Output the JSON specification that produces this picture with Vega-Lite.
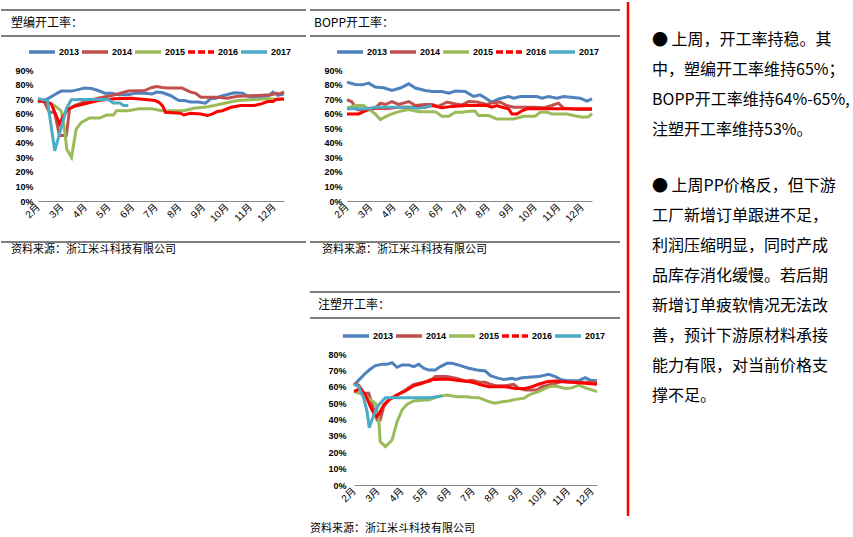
{
"$schema": "https://vega.github.io/schema/vega-lite/v6.json",
"padding": 0,
"background": "white",
"config": {
  "view": {"stroke": null},
  "font": "Liberation Sans, Noto Sans CJK SC",
  "axis": {"labelColor": "#000", "domainColor": "#898989", "labelFont": "Liberation Sans, Noto Sans CJK SC"},
  "legend": {"labelColor": "#000", "labelFont": "Liberation Sans"}
},
"resolve": {"scale": {"color": "independent", "x": "independent", "y": "independent"}, "legend": {"color": "independent"}},
"datasets": {
"suobian": [
{"year":"2013","month":2.0,"rate":68},{"year":"2013","month":2.2,"rate":69},{"year":"2013","month":2.41,"rate":70.2},{"year":"2013","month":2.7,"rate":73},{"year":"2013","month":2.98,"rate":75.5},{"year":"2013","month":3.41,"rate":75.5},{"year":"2013","month":3.7,"rate":76.5},{"year":"2013","month":3.98,"rate":77.6},{"year":"2013","month":4.26,"rate":77.3},{"year":"2013","month":4.55,"rate":75.9},{"year":"2013","month":4.83,"rate":74.1},{"year":"2013","month":5.12,"rate":74},{"year":"2013","month":5.4,"rate":73},{"year":"2013","month":5.83,"rate":73},{"year":"2013","month":6.12,"rate":74.1},{"year":"2013","month":6.54,"rate":74},{"year":"2013","month":6.83,"rate":73.5},{"year":"2013","month":7.04,"rate":74.8},{"year":"2013","month":7.26,"rate":74.5},{"year":"2013","month":7.61,"rate":72.5},{"year":"2013","month":7.97,"rate":69},{"year":"2013","month":8.2,"rate":69},{"year":"2013","month":8.47,"rate":68},{"year":"2013","month":8.8,"rate":68},{"year":"2013","month":9.1,"rate":67.2},{"year":"2013","month":9.32,"rate":70.2},{"year":"2013","month":9.55,"rate":70.5},{"year":"2013","month":9.75,"rate":72},{"year":"2013","month":10.0,"rate":73},{"year":"2013","month":10.32,"rate":74.3},{"year":"2013","month":10.68,"rate":74},{"year":"2013","month":10.89,"rate":72},{"year":"2013","month":11.1,"rate":71.5},{"year":"2013","month":11.32,"rate":71.8},{"year":"2013","month":11.6,"rate":72},{"year":"2013","month":11.8,"rate":72.5},{"year":"2013","month":11.96,"rate":74.8},{"year":"2013","month":12.17,"rate":72.5},{"year":"2013","month":12.43,"rate":73.7},
{"year":"2014","month":2.0,"rate":69},{"year":"2014","month":2.27,"rate":68},{"year":"2014","month":2.48,"rate":61},{"year":"2014","month":2.7,"rate":61},{"year":"2014","month":2.91,"rate":45},{"year":"2014","month":3.2,"rate":45},{"year":"2014","month":3.34,"rate":63.3},{"year":"2014","month":3.55,"rate":65.5},{"year":"2014","month":3.98,"rate":68.3},{"year":"2014","month":4.55,"rate":70.6},{"year":"2014","month":5.26,"rate":73},{"year":"2014","month":5.83,"rate":75.5},{"year":"2014","month":6.54,"rate":76},{"year":"2014","month":6.83,"rate":78},{"year":"2014","month":7.04,"rate":78.7},{"year":"2014","month":7.26,"rate":78},{"year":"2014","month":7.47,"rate":77.6},{"year":"2014","month":8.11,"rate":77.6},{"year":"2014","month":8.47,"rate":74.8},{"year":"2014","month":8.69,"rate":74},{"year":"2014","month":8.9,"rate":71.3},{"year":"2014","month":9.61,"rate":71.3},{"year":"2014","month":10.03,"rate":70.6},{"year":"2014","month":10.46,"rate":72},{"year":"2014","month":11.32,"rate":72.5},{"year":"2014","month":11.88,"rate":73},{"year":"2014","month":12.1,"rate":74},{"year":"2014","month":12.24,"rate":73.5},{"year":"2014","month":12.43,"rate":75},
{"year":"2015","month":2.0,"rate":69.7},{"year":"2015","month":2.27,"rate":69},{"year":"2015","month":2.7,"rate":65.6},{"year":"2015","month":2.98,"rate":62},{"year":"2015","month":3.12,"rate":50},{"year":"2015","month":3.22,"rate":35.5},{"year":"2015","month":3.42,"rate":30},{"year":"2015","month":3.62,"rate":49.5},{"year":"2015","month":3.84,"rate":54},{"year":"2015","month":4.19,"rate":57},{"year":"2015","month":4.62,"rate":57},{"year":"2015","month":4.91,"rate":59},{"year":"2015","month":5.2,"rate":59},{"year":"2015","month":5.33,"rate":62},{"year":"2015","month":5.83,"rate":62},{"year":"2015","month":6.26,"rate":63.3},{"year":"2015","month":6.83,"rate":63.3},{"year":"2015","month":7.26,"rate":62},{"year":"2015","month":8.18,"rate":62},{"year":"2015","month":8.61,"rate":63.7},{"year":"2015","month":9.1,"rate":64.5},{"year":"2015","month":9.47,"rate":65.6},{"year":"2015","month":9.9,"rate":67.2},{"year":"2015","month":10.46,"rate":69},{"year":"2015","month":11.17,"rate":69.7},{"year":"2015","month":11.74,"rate":70.2},{"year":"2015","month":12.43,"rate":69.7},
{"year":"2016","month":2.0,"rate":69},{"year":"2016","month":2.34,"rate":68.3},{"year":"2016","month":2.56,"rate":66.7},{"year":"2016","month":2.77,"rate":58.7},{"year":"2016","month":2.91,"rate":53},{"year":"2016","month":3.05,"rate":57.5},{"year":"2016","month":3.27,"rate":63.3},{"year":"2016","month":3.55,"rate":65},{"year":"2016","month":3.98,"rate":66.7},{"year":"2016","month":4.55,"rate":69},{"year":"2016","month":5.26,"rate":70.2},{"year":"2016","month":5.97,"rate":70.6},{"year":"2016","month":6.54,"rate":69.7},{"year":"2016","month":6.97,"rate":69},{"year":"2016","month":7.15,"rate":67.5},{"year":"2016","month":7.3,"rate":65},{"year":"2016","month":7.4,"rate":61},{"year":"2016","month":8.04,"rate":60.3},{"year":"2016","month":8.18,"rate":59.1},{"year":"2016","month":8.47,"rate":60.3},{"year":"2016","month":8.9,"rate":59.8},{"year":"2016","month":9.18,"rate":58.7},{"year":"2016","month":9.4,"rate":59.8},{"year":"2016","month":9.61,"rate":61.5},{"year":"2016","month":9.82,"rate":62},{"year":"2016","month":10.18,"rate":64.4},{"year":"2016","month":10.6,"rate":65.6},{"year":"2016","month":11.17,"rate":65.6},{"year":"2016","month":11.46,"rate":66.7},{"year":"2016","month":11.74,"rate":68.3},{"year":"2016","month":11.96,"rate":68.3},{"year":"2016","month":12.1,"rate":69.7},{"year":"2016","month":12.43,"rate":70.2},
{"year":"2017","month":2.0,"rate":70.5},{"year":"2017","month":2.2,"rate":69.5},{"year":"2017","month":2.4,"rate":69},{"year":"2017","month":2.71,"rate":34.5},{"year":"2017","month":3.05,"rate":54},{"year":"2017","month":3.2,"rate":63.3},{"year":"2017","month":3.41,"rate":69.5},{"year":"2017","month":3.84,"rate":69.7},{"year":"2017","month":4.55,"rate":69.7},{"year":"2017","month":4.98,"rate":69.7},{"year":"2017","month":5.19,"rate":67.4},{"year":"2017","month":5.48,"rate":67.4},{"year":"2017","month":5.62,"rate":65.6},{"year":"2017","month":5.83,"rate":65.6}
],
"bopp": [
{"year":"2013","month":2.0,"rate":81.7},{"year":"2013","month":2.35,"rate":80},{"year":"2013","month":2.64,"rate":79.8},{"year":"2013","month":2.92,"rate":81},{"year":"2013","month":3.2,"rate":78.3},{"year":"2013","month":3.56,"rate":77.8},{"year":"2013","month":3.91,"rate":75.9},{"year":"2013","month":4.27,"rate":77.6},{"year":"2013","month":4.63,"rate":80.5},{"year":"2013","month":4.91,"rate":77.6},{"year":"2013","month":5.33,"rate":75.9},{"year":"2013","month":5.62,"rate":75.2},{"year":"2013","month":6.04,"rate":75.2},{"year":"2013","month":6.33,"rate":74.1},{"year":"2013","month":6.61,"rate":75.5},{"year":"2013","month":7.03,"rate":75.2},{"year":"2013","month":7.39,"rate":71.8},{"year":"2013","month":7.67,"rate":73},{"year":"2013","month":8.17,"rate":67.9},{"year":"2013","month":8.46,"rate":70.2},{"year":"2013","month":8.88,"rate":71.8},{"year":"2013","month":9.1,"rate":70.6},{"year":"2013","month":9.38,"rate":71.8},{"year":"2013","month":10.09,"rate":71.8},{"year":"2013","month":10.3,"rate":70.6},{"year":"2013","month":10.58,"rate":71.8},{"year":"2013","month":10.94,"rate":70.6},{"year":"2013","month":11.22,"rate":71.8},{"year":"2013","month":11.93,"rate":70.6},{"year":"2013","month":12.21,"rate":68.6},{"year":"2013","month":12.43,"rate":70.2},
{"year":"2014","month":2.0,"rate":69.7},{"year":"2014","month":2.21,"rate":68},{"year":"2014","month":2.43,"rate":62.8},{"year":"2014","month":2.78,"rate":62},{"year":"2014","month":3.2,"rate":63.8},{"year":"2014","month":3.42,"rate":67.2},{"year":"2014","month":3.63,"rate":66.3},{"year":"2014","month":3.91,"rate":68.3},{"year":"2014","month":4.2,"rate":66.3},{"year":"2014","month":4.63,"rate":68.3},{"year":"2014","month":4.91,"rate":65.6},{"year":"2014","month":5.33,"rate":66.3},{"year":"2014","month":5.62,"rate":66.3},{"year":"2014","month":5.9,"rate":65},{"year":"2014","month":6.26,"rate":68},{"year":"2014","month":6.61,"rate":66.7},{"year":"2014","month":6.89,"rate":66},{"year":"2014","month":7.18,"rate":68.3},{"year":"2014","month":7.53,"rate":68},{"year":"2014","month":7.96,"rate":66.3},{"year":"2014","month":8.17,"rate":67.4},{"year":"2014","month":8.52,"rate":68},{"year":"2014","month":8.8,"rate":65.6},{"year":"2014","month":9.1,"rate":64.4},{"year":"2014","month":9.94,"rate":64.4},{"year":"2014","month":10.37,"rate":64},{"year":"2014","month":10.72,"rate":65.6},{"year":"2014","month":11.0,"rate":67.2},{"year":"2014","month":11.22,"rate":63.8},{"year":"2014","month":11.79,"rate":62.8},{"year":"2014","month":12.43,"rate":62.8},
{"year":"2015","month":2.0,"rate":63.8},{"year":"2015","month":2.35,"rate":65.6},{"year":"2015","month":2.71,"rate":65.6},{"year":"2015","month":2.92,"rate":63.3},{"year":"2015","month":3.2,"rate":59.8},{"year":"2015","month":3.42,"rate":55.9},{"year":"2015","month":3.77,"rate":59},{"year":"2015","month":4.2,"rate":61.4},{"year":"2015","month":4.63,"rate":62.8},{"year":"2015","month":5.05,"rate":61.4},{"year":"2015","month":5.76,"rate":61.4},{"year":"2015","month":6.04,"rate":58.2},{"year":"2015","month":6.33,"rate":58.2},{"year":"2015","month":6.61,"rate":61},{"year":"2015","month":6.89,"rate":61},{"year":"2015","month":7.18,"rate":61.7},{"year":"2015","month":7.46,"rate":61.7},{"year":"2015","month":7.6,"rate":58.7},{"year":"2015","month":8.03,"rate":58.7},{"year":"2015","month":8.38,"rate":56.4},{"year":"2015","month":9.1,"rate":56.4},{"year":"2015","month":9.52,"rate":58.2},{"year":"2015","month":10.01,"rate":58.2},{"year":"2015","month":10.23,"rate":61},{"year":"2015","month":10.52,"rate":61},{"year":"2015","month":10.72,"rate":59.8},{"year":"2015","month":11.36,"rate":59.8},{"year":"2015","month":11.79,"rate":58.2},{"year":"2015","month":12.07,"rate":57.5},{"year":"2015","month":12.28,"rate":57.8},{"year":"2015","month":12.43,"rate":60},
{"year":"2016","month":2.0,"rate":59.8},{"year":"2016","month":2.5,"rate":59.8},{"year":"2016","month":2.71,"rate":61.4},{"year":"2016","month":2.99,"rate":63.8},{"year":"2016","month":3.77,"rate":63.8},{"year":"2016","month":4.2,"rate":64.4},{"year":"2016","month":5.33,"rate":64.4},{"year":"2016","month":5.62,"rate":65.6},{"year":"2016","month":6.04,"rate":64},{"year":"2016","month":6.47,"rate":65},{"year":"2016","month":7.1,"rate":65.6},{"year":"2016","month":7.96,"rate":65.6},{"year":"2016","month":8.17,"rate":64.4},{"year":"2016","month":8.38,"rate":65.6},{"year":"2016","month":8.6,"rate":64.4},{"year":"2016","month":8.88,"rate":63.3},{"year":"2016","month":9.02,"rate":59.8},{"year":"2016","month":9.23,"rate":59.8},{"year":"2016","month":9.45,"rate":62},{"year":"2016","month":9.66,"rate":63.3},{"year":"2016","month":10.5,"rate":63.3},{"year":"2016","month":11.5,"rate":63.3},{"year":"2016","month":12.43,"rate":63.3},
{"year":"2017","month":2.0,"rate":63.3},{"year":"2017","month":2.92,"rate":63.3},{"year":"2017","month":3.2,"rate":64.4},{"year":"2017","month":3.91,"rate":64.4},{"year":"2017","month":4.63,"rate":64.4},{"year":"2017","month":5.05,"rate":63.8},{"year":"2017","month":5.48,"rate":65},{"year":"2017","month":5.6,"rate":65.6}
],
"zhusu": [
{"year":"2013","month":2.0,"rate":61},{"year":"2013","month":2.27,"rate":65.1},{"year":"2013","month":2.48,"rate":68.2},{"year":"2013","month":2.69,"rate":70.8},{"year":"2013","month":2.9,"rate":72.9},{"year":"2013","month":3.18,"rate":73.7},{"year":"2013","month":3.39,"rate":73.7},{"year":"2013","month":3.6,"rate":74.7},{"year":"2013","month":3.81,"rate":71.9},{"year":"2013","month":4.02,"rate":73.3},{"year":"2013","month":4.3,"rate":73.3},{"year":"2013","month":4.51,"rate":72.3},{"year":"2013","month":4.72,"rate":73.7},{"year":"2013","month":4.93,"rate":71.3},{"year":"2013","month":5.14,"rate":70.2},{"year":"2013","month":5.42,"rate":70.2},{"year":"2013","month":5.63,"rate":72.3},{"year":"2013","month":5.91,"rate":74.3},{"year":"2013","month":6.12,"rate":74.3},{"year":"2013","month":6.47,"rate":72.9},{"year":"2013","month":6.82,"rate":71.3},{"year":"2013","month":7.17,"rate":70.2},{"year":"2013","month":7.52,"rate":69.6},{"year":"2013","month":7.73,"rate":66.8},{"year":"2013","month":8.08,"rate":65.1},{"year":"2013","month":8.29,"rate":64.5},{"year":"2013","month":8.64,"rate":65.1},{"year":"2013","month":8.78,"rate":64.5},{"year":"2013","month":9.06,"rate":65.5},{"year":"2013","month":9.76,"rate":66.2},{"year":"2013","month":10.18,"rate":67.6},{"year":"2013","month":10.46,"rate":66.2},{"year":"2013","month":10.67,"rate":64.5},{"year":"2013","month":10.95,"rate":63.7},{"year":"2013","month":11.44,"rate":63.7},{"year":"2013","month":11.72,"rate":65.5},{"year":"2013","month":11.93,"rate":64},{"year":"2013","month":12.21,"rate":63.7},
{"year":"2014","month":2.0,"rate":62.1},{"year":"2014","month":2.2,"rate":61},{"year":"2014","month":2.41,"rate":56},{"year":"2014","month":2.62,"rate":56},{"year":"2014","month":2.83,"rate":45.8},{"year":"2014","month":2.97,"rate":39.7},{"year":"2014","month":3.1,"rate":39.7},{"year":"2014","month":3.25,"rate":47.8},{"year":"2014","month":3.46,"rate":51.9},{"year":"2014","month":3.81,"rate":55},{"year":"2014","month":4.16,"rate":58},{"year":"2014","month":4.51,"rate":61.5},{"year":"2014","month":4.93,"rate":62.7},{"year":"2014","month":5.2,"rate":63.5},{"year":"2014","month":5.42,"rate":66.2},{"year":"2014","month":5.91,"rate":66.2},{"year":"2014","month":6.33,"rate":65.1},{"year":"2014","month":6.68,"rate":63.5},{"year":"2014","month":6.96,"rate":64},{"year":"2014","month":7.31,"rate":62.7},{"year":"2014","month":7.52,"rate":62.7},{"year":"2014","month":7.73,"rate":61.5},{"year":"2014","month":7.94,"rate":60.6},{"year":"2014","month":8.36,"rate":60.6},{"year":"2014","month":8.71,"rate":61.5},{"year":"2014","month":8.92,"rate":59},{"year":"2014","month":9.2,"rate":58},{"year":"2014","month":9.69,"rate":58},{"year":"2014","month":9.9,"rate":60},{"year":"2014","month":10.32,"rate":61.5},{"year":"2014","month":10.74,"rate":63.1},{"year":"2014","month":11.16,"rate":62.7},{"year":"2014","month":12.21,"rate":62.7},
{"year":"2015","month":2.0,"rate":57},{"year":"2015","month":2.34,"rate":55.6},{"year":"2015","month":2.6,"rate":53},{"year":"2015","month":2.9,"rate":49.9},{"year":"2015","month":3.04,"rate":39.7},{"year":"2015","month":3.1,"rate":26.5},{"year":"2015","month":3.32,"rate":23.4},{"year":"2015","month":3.6,"rate":27.5},{"year":"2015","month":3.81,"rate":38.7},{"year":"2015","month":4.02,"rate":45.8},{"year":"2015","month":4.23,"rate":49.3},{"year":"2015","month":4.51,"rate":51.3},{"year":"2015","month":4.93,"rate":51.9},{"year":"2015","month":5.14,"rate":51.9},{"year":"2015","month":5.49,"rate":53.9},{"year":"2015","month":5.91,"rate":55},{"year":"2015","month":6.33,"rate":53.9},{"year":"2015","month":6.75,"rate":53.9},{"year":"2015","month":6.96,"rate":53.5},{"year":"2015","month":7.24,"rate":53.3},{"year":"2015","month":7.66,"rate":50.9},{"year":"2015","month":7.94,"rate":49.9},{"year":"2015","month":8.22,"rate":50.9},{"year":"2015","month":8.5,"rate":51.3},{"year":"2015","month":8.78,"rate":52.3},{"year":"2015","month":9.13,"rate":53},{"year":"2015","month":9.41,"rate":55.4},{"year":"2015","month":9.76,"rate":57},{"year":"2015","month":10.04,"rate":59},{"year":"2015","month":10.32,"rate":60.5},{"year":"2015","month":10.6,"rate":60},{"year":"2015","month":10.88,"rate":59},{"year":"2015","month":11.16,"rate":59.3},{"year":"2015","month":11.44,"rate":61},{"year":"2015","month":11.79,"rate":59},{"year":"2015","month":12.21,"rate":57},
{"year":"2016","month":2.0,"rate":57},{"year":"2016","month":2.27,"rate":59},{"year":"2016","month":2.48,"rate":55},{"year":"2016","month":2.69,"rate":47.8},{"year":"2016","month":2.83,"rate":43.8},{"year":"2016","month":2.97,"rate":41.8},{"year":"2016","month":3.1,"rate":44.8},{"year":"2016","month":3.25,"rate":48.9},{"year":"2016","month":3.46,"rate":51.9},{"year":"2016","month":3.81,"rate":55},{"year":"2016","month":4.16,"rate":57.4},{"year":"2016","month":4.51,"rate":60.6},{"year":"2016","month":4.86,"rate":62.1},{"year":"2016","month":5.2,"rate":64.1},{"year":"2016","month":5.42,"rate":64.5},{"year":"2016","month":5.91,"rate":64.7},{"year":"2016","month":6.47,"rate":63.7},{"year":"2016","month":6.89,"rate":63},{"year":"2016","month":7.17,"rate":62},{"year":"2016","month":7.24,"rate":61.5},{"year":"2016","month":7.66,"rate":60},{"year":"2016","month":8.36,"rate":60},{"year":"2016","month":8.78,"rate":59},{"year":"2016","month":9.2,"rate":59},{"year":"2016","month":9.48,"rate":60},{"year":"2016","month":9.76,"rate":61.5},{"year":"2016","month":10.11,"rate":63.1},{"year":"2016","month":10.46,"rate":63.5},{"year":"2016","month":11.16,"rate":62.7},{"year":"2016","month":12.21,"rate":61.5},
{"year":"2017","month":2.0,"rate":61.5},{"year":"2017","month":2.2,"rate":60},{"year":"2017","month":2.41,"rate":52.9},{"year":"2017","month":2.55,"rate":44.8},{"year":"2017","month":2.64,"rate":35},{"year":"2017","month":2.83,"rate":42.8},{"year":"2017","month":3.04,"rate":48.9},{"year":"2017","month":3.32,"rate":53.3},{"year":"2017","month":3.81,"rate":53.3},{"year":"2017","month":4.51,"rate":53.3},{"year":"2017","month":5.2,"rate":53.3},{"year":"2017","month":5.49,"rate":53.9},{"year":"2017","month":5.7,"rate":54.6}
]
},
"columns": 2,
"align": "none",
"spacing": 5,
"concat": [
 {"columns": 2, "align": "none", "spacing": 2, "resolve": {"scale": {"color": "independent", "x": "independent", "y": "independent"}, "legend": {"color": "independent"}}, "concat": [
  {"columns": 1, "align": "none", "spacing": 0, "resolve": {"scale": {"color": "independent", "x": "independent", "y": "independent"}, "legend": {"color": "independent"}}, "concat": [
    {"width": 305, "height": 34, "data": {"values": [{"title": "塑编开工率："}]}, "layer": [
      {"mark": {"type": "rule", "color": "#000", "strokeWidth": 1.2}, "encoding": {"y": {"datum": 1, "scale": {"domain": [0, 1], "range": [34, 8]}, "axis": null}}},
      {"mark": {"type": "rule", "color": "#000", "strokeWidth": 1.2}, "encoding": {"y": {"datum": 0, "scale": {"domain": [0, 1], "range": [34, 8]}, "axis": null}}},
      {"mark": {"type": "text", "align": "left", "baseline": "middle", "dx": 10, "fontSize": 12, "font": "Noto Sans CJK SC", "color": "#000"}, "encoding": {"x": {"datum": 0, "scale": {"domain": [0, 1]}, "axis": null}, "y": {"datum": 0.5, "scale": {"domain": [0, 1], "range": [34, 8]}, "axis": null}, "text": {"field": "title"}}}
    ]},
    {"columns": 1, "align": "none", "spacing": 17, "resolve": {"scale": {"color": "independent", "x": "independent", "y": "independent"}, "legend": {"color": "independent"}}, "concat": [
      {"width": 283, "height": 131, "data": {"name": "suobian"},
       "mark": {"type": "line", "strokeWidth": 3},
       "encoding": {
         "x": {"field": "month", "type": "quantitative", "scale": {"domain": [2, 12.43], "range": [37, 283], "nice": false, "zero": false},
               "axis": {"title": null, "values": [2,3,4,5,6,7,8,9,10,11,12], "labelExpr": "datum.value + '月'", "labelAngle": -45, "labelAlign": "right", "labelBaseline": "middle", "ticks": false, "grid": false, "labelFontSize": 10, "labelPadding": 4}},
         "y": {"field": "rate", "type": "quantitative", "scale": {"domain": [0, 90], "nice": false},
               "axis": {"title": null, "values": [0,10,20,30,40,50,60,70,80,90], "labelExpr": "datum.value + '%'", "domain": false, "ticks": false, "grid": false, "offset": -37, "labelPadding": 5, "minExtent": 0, "labelFontSize": 9, "labelFontWeight": "bold"}},
         "color": {"field": "year", "type": "nominal", "scale": {"domain": ["2013","2014","2015","2016","2017"], "range": ["#4F81BD","#C0504D","#9BBB59","#FF0000","#4BACC6"]},
                   "legend": {"title": null, "orient": "none", "legendX": 26, "legendY": -33, "direction": "horizontal", "symbolType": "stroke", "symbolSize": 676, "symbolStrokeWidth": 3.5, "labelFontSize": 9, "labelFontWeight": "bold", "labelOffset": 2, "columnPadding": -8, "padding": 0,
                              "encode": {"symbols": {"update": {"strokeDash": {"signal": "datum.value == '2016' ? [7,3] : [1,0]"}}}}}}
       }},
      {"width": 305, "height": 16, "data": {"values": [{"src": "资料来源：浙江米斗科技有限公司"}]}, "layer": [
        {"mark": {"type": "rule", "color": "#000", "strokeWidth": 1.2}, "encoding": {"y": {"datum": 1, "scale": {"domain": [0, 1]}, "axis": null}}},
        {"mark": {"type": "text", "align": "left", "baseline": "middle", "dx": 10, "fontSize": 11, "font": "Noto Sans CJK SC", "color": "#000"}, "encoding": {"x": {"datum": 0, "scale": {"domain": [0, 1]}, "axis": null}, "y": {"datum": 0.5, "scale": {"domain": [0, 1]}, "axis": null}, "text": {"field": "src"}}}
      ]}
    ]}
  ]},
  {"columns": 1, "align": "none", "spacing": 33, "resolve": {"scale": {"color": "independent", "x": "independent", "y": "independent"}, "legend": {"color": "independent"}}, "concat": [
    {"columns": 1, "align": "none", "spacing": 0, "resolve": {"scale": {"color": "independent", "x": "independent", "y": "independent"}, "legend": {"color": "independent"}}, "concat": [
      {"width": 310, "height": 34, "data": {"values": [{"title": "BOPP开工率："}]}, "layer": [
        {"mark": {"type": "rule", "color": "#000", "strokeWidth": 1.2}, "encoding": {"y": {"datum": 1, "scale": {"domain": [0, 1], "range": [34, 8]}, "axis": null}}},
        {"mark": {"type": "rule", "color": "#000", "strokeWidth": 1.2}, "encoding": {"y": {"datum": 0, "scale": {"domain": [0, 1], "range": [34, 8]}, "axis": null}}},
        {"mark": {"type": "text", "align": "left", "baseline": "middle", "dx": 4, "fontSize": 12, "font": "Noto Sans CJK SC", "color": "#000"}, "encoding": {"x": {"datum": 0, "scale": {"domain": [0, 1]}, "axis": null}, "y": {"datum": 0.5, "scale": {"domain": [0, 1], "range": [34, 8]}, "axis": null}, "text": {"field": "title"}}}
      ]},
      {"columns": 1, "align": "none", "spacing": 17, "resolve": {"scale": {"color": "independent", "x": "independent", "y": "independent"}, "legend": {"color": "independent"}}, "concat": [
        {"width": 282, "height": 131, "data": {"name": "bopp"},
         "mark": {"type": "line", "strokeWidth": 3},
         "encoding": {
           "x": {"field": "month", "type": "quantitative", "scale": {"domain": [2, 12.43], "range": [37, 282], "nice": false, "zero": false},
                 "axis": {"title": null, "values": [2,3,4,5,6,7,8,9,10,11,12], "labelExpr": "datum.value + '月'", "labelAngle": -45, "labelAlign": "right", "labelBaseline": "middle", "ticks": false, "grid": false, "labelFontSize": 10, "labelPadding": 4}},
           "y": {"field": "rate", "type": "quantitative", "scale": {"domain": [0, 90], "nice": false},
                 "axis": {"title": null, "values": [0,10,20,30,40,50,60,70,80,90], "labelExpr": "datum.value + '%'", "domain": false, "ticks": false, "grid": false, "offset": -37, "labelPadding": 5, "minExtent": 0, "labelFontSize": 9, "labelFontWeight": "bold"}},
           "color": {"field": "year", "type": "nominal", "scale": {"domain": ["2013","2014","2015","2016","2017"], "range": ["#4F81BD","#C0504D","#9BBB59","#FF0000","#4BACC6"]},
                     "legend": {"title": null, "orient": "none", "legendX": 25, "legendY": -33, "direction": "horizontal", "symbolType": "stroke", "symbolSize": 676, "symbolStrokeWidth": 3.5, "labelFontSize": 9, "labelFontWeight": "bold", "labelOffset": 2, "columnPadding": -8, "padding": 0,
                                "encode": {"symbols": {"update": {"strokeDash": {"signal": "datum.value == '2016' ? [7,3] : [1,0]"}}}}}}
         }},
        {"width": 310, "height": 16, "data": {"values": [{"src": "资料来源：浙江米斗科技有限公司"}]}, "layer": [
          {"mark": {"type": "rule", "color": "#000", "strokeWidth": 1.2}, "encoding": {"y": {"datum": 1, "scale": {"domain": [0, 1]}, "axis": null}}},
          {"mark": {"type": "text", "align": "left", "baseline": "middle", "dx": 12, "fontSize": 11, "font": "Noto Sans CJK SC", "color": "#000"}, "encoding": {"x": {"datum": 0, "scale": {"domain": [0, 1]}, "axis": null}, "y": {"datum": 0.5, "scale": {"domain": [0, 1]}, "axis": null}, "text": {"field": "src"}}}
        ]}
      ]}
    ]},
    {"columns": 1, "align": "none", "spacing": 2, "resolve": {"scale": {"color": "independent", "x": "independent", "y": "independent"}, "legend": {"color": "independent"}}, "concat": [
      {"width": 310, "height": 26, "data": {"values": [{"title": "注塑开工率："}]}, "layer": [
        {"mark": {"type": "rule", "color": "#000", "strokeWidth": 1.2}, "encoding": {"y": {"datum": 1, "scale": {"domain": [0, 1]}, "axis": null}}},
        {"mark": {"type": "rule", "color": "#000", "strokeWidth": 1.2}, "encoding": {"y": {"datum": 0, "scale": {"domain": [0, 1]}, "axis": null}}},
        {"mark": {"type": "text", "align": "left", "baseline": "middle", "dx": 8, "fontSize": 12, "font": "Noto Sans CJK SC", "color": "#000"}, "encoding": {"x": {"datum": 0, "scale": {"domain": [0, 1]}, "axis": null}, "y": {"datum": 0.5, "scale": {"domain": [0, 1]}, "axis": null}, "text": {"field": "title"}}}
      ]},
      {"columns": 1, "align": "none", "spacing": 13, "resolve": {"scale": {"color": "independent", "x": "independent", "y": "independent"}, "legend": {"color": "independent"}}, "concat": [
        {"width": 287, "height": 131, "data": {"name": "zhusu"},
         "mark": {"type": "line", "strokeWidth": 3},
         "encoding": {
           "x": {"field": "month", "type": "quantitative", "scale": {"domain": [2, 12.21], "range": [44, 287], "nice": false, "zero": false},
                 "axis": {"title": null, "values": [2,3,4,5,6,7,8,9,10,11,12], "labelExpr": "datum.value + '月'", "labelAngle": -45, "labelAlign": "right", "labelBaseline": "middle", "ticks": false, "grid": false, "labelFontSize": 10, "labelPadding": 4}},
           "y": {"field": "rate", "type": "quantitative", "scale": {"domain": [0, 80], "nice": false},
                 "axis": {"title": null, "values": [0,10,20,30,40,50,60,70,80], "labelExpr": "datum.value + '%'", "domain": false, "ticks": false, "grid": false, "offset": -44, "labelPadding": 8, "minExtent": 0, "labelFontSize": 9, "labelFontWeight": "bold"}},
           "color": {"field": "year", "type": "nominal", "scale": {"domain": ["2013","2014","2015","2016","2017"], "range": ["#4F81BD","#C0504D","#9BBB59","#FF0000","#4BACC6"]},
                     "legend": {"title": null, "orient": "none", "legendX": 31, "legendY": -33, "direction": "horizontal", "symbolType": "stroke", "symbolSize": 676, "symbolStrokeWidth": 3.5, "labelFontSize": 9, "labelFontWeight": "bold", "labelOffset": 2, "columnPadding": -8, "padding": 0,
                                "encode": {"symbols": {"update": {"strokeDash": {"signal": "datum.value == '2016' ? [7,3] : [1,0]"}}}}}}
         }},
        {"width": 310, "height": 16, "data": {"values": [{"src": "资料来源：浙江米斗科技有限公司"}]}, "layer": [
          {"mark": {"type": "text", "align": "left", "baseline": "middle", "dx": 0, "fontSize": 11, "font": "Noto Sans CJK SC", "color": "#000"}, "encoding": {"x": {"datum": 0, "scale": {"domain": [0, 1]}, "axis": null}, "y": {"datum": 0.5, "scale": {"domain": [0, 1]}, "axis": null}, "text": {"field": "src"}}}
        ]}
      ]}
    ]}
  ]}
 ]},
 {"width": 225, "height": 514, "layer": [
   {"data": {"values": [{"side": 0}]}, "mark": {"type": "rule", "color": "#FF0000", "strokeWidth": 2.5}, "encoding": {"x": {"datum": 0, "scale": {"domain": [0, 1]}, "axis": null}}},
   {"data": {"values": [{"lines": ["● 上周，开工率持稳。其", "中，塑编开工率维持65%；", "BOPP开工率维持64%-65%,", "注塑开工率维持53%。"]}]},
    "mark": {"type": "text", "align": "left", "baseline": "top", "dx": 24, "dy": 30, "fontSize": 16, "lineHeight": 30, "font": "Noto Sans CJK SC", "color": "#000"},
    "encoding": {"x": {"datum": 0, "scale": {"domain": [0, 1]}, "axis": null}, "y": {"datum": 1, "scale": {"domain": [0, 1]}, "axis": null}, "text": {"field": "lines"}}},
   {"data": {"values": [{"lines": ["● 上周PP价格反，但下游", "工厂新增订单跟进不足，", "利润压缩明显，同时产成", "品库存消化缓慢。若后期", "新增订单疲软情况无法改", "善，预计下游原材料承接", "能力有限，对当前价格支", "撑不足。"]}]},
    "mark": {"type": "text", "align": "left", "baseline": "top", "dx": 24, "dy": 176, "fontSize": 16, "lineHeight": 30, "font": "Noto Sans CJK SC", "color": "#000"},
    "encoding": {"x": {"datum": 0, "scale": {"domain": [0, 1]}, "axis": null}, "y": {"datum": 1, "scale": {"domain": [0, 1]}, "axis": null}, "text": {"field": "lines"}}}
 ]}
]
}
